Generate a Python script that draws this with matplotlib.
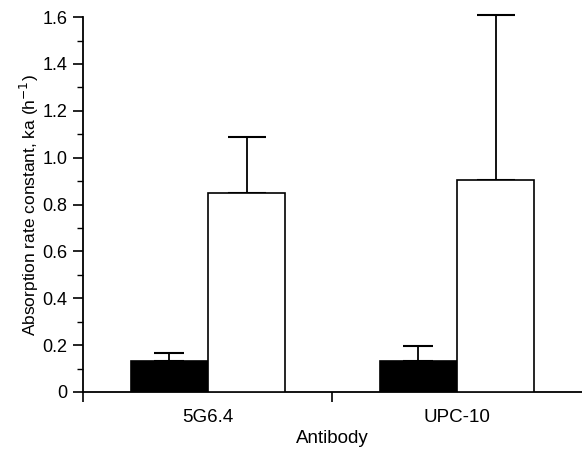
import matplotlib.pyplot as plt
from matplotlib.ticker import MultipleLocator, FixedLocator

plt.rcParams['font.family'] = ['Liberation Sans', 'DejaVu Sans']

antibodies = ["5G6.4", "UPC-10"]
black_vals = [0.13, 0.13]
black_err = [0.037, 0.067]
white_vals = [0.85, 0.905]
white_err = [0.24, 0.705]

fig = plt.figure(figsize=(5.82, 4.5), dpi=100)
ax = fig.add_axes([0.1426, 0.129, 0.8574, 0.833])

x = [0, 1]
w = 0.31
xb = [i - w / 2 for i in x]
xw = [i + w / 2 for i in x]

ax.bar(xb, black_vals, width=w, color="k", edgecolor="k", lw=1.2,
       yerr=[[0, 0], black_err],
       error_kw=dict(ecolor="k", elinewidth=1.3, capsize=10.5, capthick=1.5, clip_on=False))
_, caps, bars = ax.errorbar(xw, white_vals, yerr=[[0, 0], white_err], fmt="none",
                            ecolor="k", elinewidth=1.3, capsize=14, capthick=1.5)
ax.bar(xw, white_vals, width=w, color="white", edgecolor="k", lw=1.2, zorder=3)
for c in caps:
    c.set_clip_on(False)
for b in bars:
    b.set_clip_on(False)

ax.set_xlim(-0.502, 1.502)
ax.set_ylim(0, 1.6)
ax.set_xticks(x)
ax.set_xticklabels(antibodies)
ax.xaxis.set_minor_locator(FixedLocator([-0.5, 0.5]))
ax.tick_params(axis="x", which="major", length=0, pad=12, labelsize=13.5)
ax.tick_params(axis="x", which="minor", length=7, width=1.2)

ax.set_yticks([0, 0.2, 0.4, 0.6, 0.8, 1.0, 1.2, 1.4, 1.6])
ax.set_yticklabels(["0", "0.2", "0.4", "0.6", "0.8", "1.0", "1.2", "1.4", "1.6"])
ax.yaxis.set_minor_locator(MultipleLocator(0.1))
ax.tick_params(axis="y", which="major", length=7, width=1.2, labelsize=13, pad=4)
ax.tick_params(axis="y", which="minor", length=4, width=1.0)

for s in ["top", "right"]:
    ax.spines[s].set_visible(False)
for s in ["left", "bottom"]:
    ax.spines[s].set_linewidth(1.3)

ax.set_xlabel("Antibody", fontsize=13.5, labelpad=3)
ax.set_ylabel("Absorption rate constant, ka (h$^{-1}$)", fontsize=12.5, labelpad=1)

fig.savefig("out.png", dpi=100)
